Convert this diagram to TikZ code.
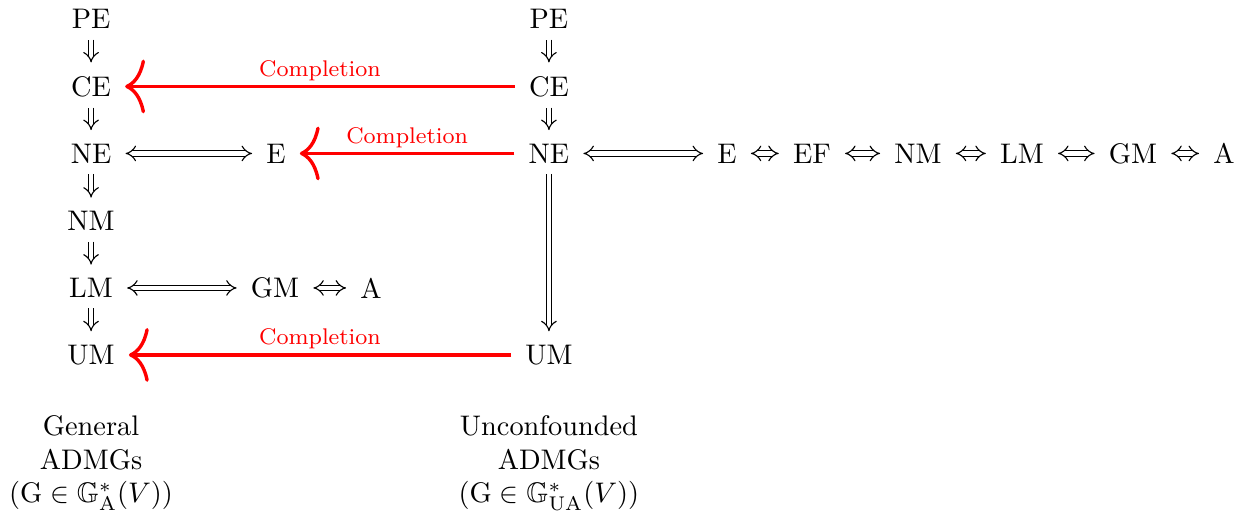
\documentclass[tikz,border=0pt]{standalone}
\usepackage{amssymb}
\usetikzlibrary{arrows.meta}

\begin{document}
\begin{tikzpicture}[
  imp/.style={double, double equal sign distance, -Implies, shorten <=0.3pt, shorten >=1.3pt},
  iff/.style={double, double equal sign distance, Implies-Implies, shorten <=1.5pt, shorten >=1.5pt},
  compl/.style={red, line width=1.2pt, -{Computer Modern Rightarrow[length=7pt,width=19pt]}, shorten <=1.5pt, shorten >=1.5pt},
  lab/.style={midway, above, inner sep=1.5pt, font=\footnotesize}
]
\useasboundingbox (0,0) rectangle (15.51,6.464);
%general column
\node (pe1) at (1.13,6.228) {PE};
\node (ce1) at (1.13,5.391) {CE};
\node (ne1) at (1.13,4.560) {NE};
\node (nm1) at (1.13,3.722) {NM};
\node (lm1) at (1.13,2.891) {LM};
\node (um1) at (1.13,2.060) {UM};
\node (e1) at (3.424,4.560) {E};
\node (gm1) at (3.412,2.891) {GM};
\node (a1) at (4.603,2.891) {A};
%unconfounded column
\node (pe2) at (6.811,6.228) {PE};
\node (ce2) at (6.811,5.391) {CE};
\node (ne2) at (6.811,4.560) {NE};
\node (um2) at (6.811,2.060) {UM};
%chain
\node (e2) at (9.020,4.560) {E};
\node (ef2) at (10.074,4.560) {EF};
\node (nm2) at (11.390,4.560) {NM};
\node (lm2) at (12.680,4.560) {LM};
\node (gm2) at (14.057,4.560) {GM};
\node (a2) at (15.186,4.560) {A};

%implications
\draw[imp] (pe1) -- (ce1);
\draw[imp] (ce1) -- (ne1);
\draw[imp] (ne1) -- (nm1);
\draw[imp] (nm1) -- (lm1);
\draw[imp] (lm1) -- (um1);
\draw[iff] (ne1) -- (e1);
\draw[iff] (lm1) -- (gm1);
\draw[iff] (gm1) -- (a1);
\draw[imp] (pe2) -- (ce2);
\draw[imp] (ce2) -- (ne2);
\draw[imp] (ne2) -- (um2);
\draw[iff] (ne2) -- (e2);
\draw[iff] (e2) -- (ef2);
\draw[iff] (ef2) -- (nm2);
\draw[iff] (nm2) -- (lm2);
\draw[iff] (lm2) -- (gm2);
\draw[iff] (gm2) -- (a2);

%completion
\draw[compl] (ce2) -- (ce1) node[lab] (c1) {Completion};
\draw[compl] (ne2) -- (e1) node[lab] (c2) {Completion};
\draw[compl] (um2) -- (um1) node[lab] (c3) {Completion};

%captions
\node[align=center] (gen) at (1.13,0.72) {General\\ADMGs\\$(\mathrm{G}\in\mathbb{G}^*_{\mathrm{A}}(V))$};
\node[align=center] (unc) at (6.811,0.72) {Unconfounded\\ADMGs\\$(\mathrm{G}\in\mathbb{G}^*_{\mathrm{UA}}(V))$};
\end{tikzpicture}
\end{document}
